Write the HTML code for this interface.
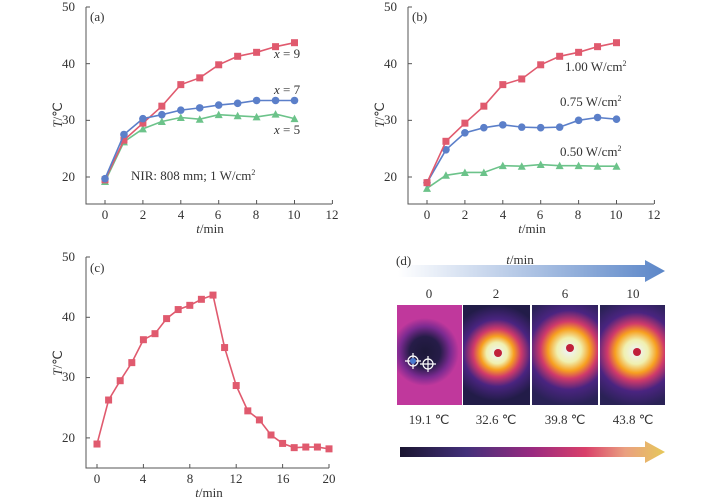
<!DOCTYPE html>
<html><head><meta charset="utf-8"><style>
body{margin:0;background:#fff}
svg{display:block;font-family:"Liberation Serif","Times New Roman",serif;}
text{font-size:13px;fill:#333}
</style></head><body>
<svg id="s" width="718" height="500" viewBox="0 0 718 500">
<defs>
<linearGradient id="ga" x1="0" x2="1"><stop offset="0" stop-color="#fff"/><stop offset="1" stop-color="#5b86c8"/></linearGradient>
<linearGradient id="gb" x1="0" x2="1"><stop offset="0" stop-color="#1a1530"/><stop offset="0.25" stop-color="#43307a"/><stop offset="0.5" stop-color="#9a2a80"/><stop offset="0.7" stop-color="#d9406a"/><stop offset="0.85" stop-color="#eaa080"/><stop offset="1" stop-color="#e6c85a"/></linearGradient>
<radialGradient id="h1" gradientUnits="userSpaceOnUse" cx="497" cy="353" r="48"><stop offset="0" stop-color="#eef4ff"/><stop offset="0.22" stop-color="#f0f0b0"/><stop offset="0.35" stop-color="#f7a020"/><stop offset="0.5" stop-color="#d03a6a"/><stop offset="0.7" stop-color="#4a2480"/><stop offset="1" stop-color="#221c48"/></radialGradient>
<radialGradient id="h2" gradientUnits="userSpaceOnUse" cx="569" cy="350" r="55"><stop offset="0" stop-color="#eef4ff"/><stop offset="0.22" stop-color="#f0f0b0"/><stop offset="0.38" stop-color="#f7a020"/><stop offset="0.52" stop-color="#d03a6a"/><stop offset="0.72" stop-color="#4a2480"/><stop offset="1" stop-color="#2a2256"/></radialGradient>
<radialGradient id="h3" gradientUnits="userSpaceOnUse" cx="636" cy="352" r="55"><stop offset="0" stop-color="#eef4ff"/><stop offset="0.22" stop-color="#f0f0b0"/><stop offset="0.38" stop-color="#f7a020"/><stop offset="0.52" stop-color="#d03a6a"/><stop offset="0.72" stop-color="#4a2480"/><stop offset="1" stop-color="#2a2256"/></radialGradient>
<radialGradient id="cold" gradientUnits="userSpaceOnUse" cx="425" cy="352" r="34"><stop offset="0" stop-color="#1c1838"/><stop offset="0.45" stop-color="#261c48"/><stop offset="0.75" stop-color="#7a2a90"/><stop offset="1" stop-color="#c0389c"/></radialGradient>
</defs>
<g id="axes" stroke="#555" stroke-width="1" fill="none">
<path d="M86 7V204H332"/>
<path d="M408 7V204H654"/>
<path d="M86 257V468H329"/>
</g>
<g id="ticks" stroke="#555" stroke-width="1"></g>
<g id="data"></g>
<text x="75" y="11" text-anchor="end">50</text>
<text x="75" y="68" text-anchor="end">40</text>
<text x="75" y="124" text-anchor="end">30</text>
<text x="75" y="181" text-anchor="end">20</text>
<g text-anchor="middle">
<text x="105" y="219">0</text><text x="143" y="219">2</text><text x="181" y="219">4</text><text x="218" y="219">6</text><text x="256" y="219">8</text><text x="294" y="219">10</text><text x="332" y="219">12</text>
<text x="210" y="233"><tspan font-style="italic">t</tspan>/min</text>
</g>
<text x="62" y="115" transform="rotate(-90 62 115)" text-anchor="middle"><tspan font-style="italic">T</tspan>/℃</text>
<text x="90" y="21">(a)</text>
<text x="274" y="58"><tspan font-style="italic">x</tspan> = 9</text>
<text x="274" y="94"><tspan font-style="italic">x</tspan> = 7</text>
<text x="274" y="134"><tspan font-style="italic">x</tspan> = 5</text>
<text x="131" y="180">NIR: 808 mm; 1 W/cm<tspan font-size="8" dy="-5">2</tspan></text>
<text x="397" y="11" text-anchor="end">50</text>
<text x="397" y="68" text-anchor="end">40</text>
<text x="397" y="124" text-anchor="end">30</text>
<text x="397" y="181" text-anchor="end">20</text>
<g text-anchor="middle">
<text x="427" y="219">0</text><text x="465" y="219">2</text><text x="503" y="219">4</text><text x="540" y="219">6</text><text x="578" y="219">8</text><text x="616" y="219">10</text><text x="654" y="219">12</text>
<text x="532" y="233"><tspan font-style="italic">t</tspan>/min</text>
</g>
<text x="384" y="115" transform="rotate(-90 384 115)" text-anchor="middle"><tspan font-style="italic">T</tspan>/℃</text>
<text x="412" y="21">(b)</text>
<text x="565" y="71">1.00 W/cm<tspan font-size="8" dy="-5">2</tspan></text>
<text x="560" y="106">0.75 W/cm<tspan font-size="8" dy="-5">2</tspan></text>
<text x="560" y="156">0.50 W/cm<tspan font-size="8" dy="-5">2</tspan></text>
<text x="75" y="261" text-anchor="end">50</text>
<text x="75" y="321" text-anchor="end">40</text>
<text x="75" y="381" text-anchor="end">30</text>
<text x="75" y="442" text-anchor="end">20</text>
<g text-anchor="middle">
<text x="97" y="483">0</text><text x="143" y="483">4</text><text x="190" y="483">8</text><text x="236" y="483">12</text><text x="283" y="483">16</text><text x="329" y="483">20</text>
<text x="209" y="497"><tspan font-style="italic">t</tspan>/min</text>
</g>
<text x="62" y="363" transform="rotate(-90 62 363)" text-anchor="middle"><tspan font-style="italic">T</tspan>/℃</text>
<text x="90" y="272">(c)</text>
<path d="M398 265H645V260L665 271L645 282V277H398Z" fill="url(#ga)"/>
<text x="396" y="265">(d)</text>
<text x="520" y="264" text-anchor="middle"><tspan font-style="italic">t</tspan>/min</text>
<g text-anchor="middle">
<text x="429" y="298">0</text><text x="496" y="298">2</text><text x="565" y="298">6</text><text x="633" y="298">10</text>
<text x="429" y="424">19.1 ℃</text><text x="496" y="424">32.6 ℃</text><text x="565" y="424">39.8 ℃</text><text x="633" y="424">43.8 ℃</text>
</g>
<rect x="397" y="305" width="65" height="100" fill="url(#cold)"/>
<rect x="463" y="305" width="67" height="100" fill="url(#h1)"/>
<rect x="532" y="305" width="66" height="100" fill="url(#h2)"/>
<rect x="600" y="305" width="65" height="100" fill="url(#h3)"/>
<g fill="none" stroke="#fff" stroke-width="1.2">
<circle cx="413" cy="361" r="5"/><circle cx="428" cy="364" r="5"/>
<path d="M405 361h16M413 353v16M420 364h16M428 356v16"/>
</g>
<circle cx="413" cy="361" r="3" fill="#4a7ad0"/>
<circle cx="498" cy="353" r="4" fill="#c0203a"/>
<circle cx="570" cy="348" r="4" fill="#c0203a"/>
<circle cx="637" cy="352" r="4" fill="#c0203a"/>
<path d="M400 447H645V441L665 452L645 463V457H400Z" fill="url(#gb)"/>
</svg>
<script>
var NS="http://www.w3.org/2000/svg",D=document.getElementById("data"),T=document.getElementById("ticks");
function el(n,a,p){var e=document.createElementNS(NS,n);for(var k in a)e.setAttribute(k,a[k]);(p||D).appendChild(e);return e;}
function series(ys,fx,fy,col,mk){var pts=ys.map(function(y,i){return [fx(i),fy(y)];});
el("polyline",{points:pts.map(function(p){return p.join(",")}).join(" "),fill:"none",stroke:col,"stroke-width":1.6});
pts.forEach(function(p){if(mk=="s")el("rect",{x:p[0]-3.5,y:p[1]-3.5,width:7,height:7,fill:col});
else if(mk=="c")el("circle",{cx:p[0],cy:p[1],r:3.8,fill:col});
else el("polygon",{points:(p[0]-4)+","+(p[1]+3.5)+" "+(p[0]+4)+","+(p[1]+3.5)+" "+p[0]+","+(p[1]-4),fill:col});});}
var R="#e05a6e",B="#5b7fc9",G="#6cc38a";
var ya=function(v){return 177-(v-20)*5.667;};
var xa=function(i){return 105+i*18.95;},xb=function(i){return 427+i*18.95;};
series([19.2,26.2,28.5,29.8,30.5,30.2,31,30.8,30.6,31.1,30.3],xa,ya,G,"t");
series([19.5,26.5,29.5,32.5,36.3,37.5,39.8,41.3,42,43,43.7],xa,ya,R,"s");
series([19.7,27.5,30.3,31,31.8,32.2,32.7,33,33.5,33.5,33.5],xa,ya,B,"c");
series([18,20.3,20.8,20.8,22,21.9,22.2,22,22,21.9,21.9],xb,ya,G,"t");
series([19,24.8,27.8,28.7,29.2,28.8,28.7,28.8,30,30.5,30.2],xb,ya,B,"c");
series([19,26.3,29.5,32.5,36.3,37.3,39.8,41.3,42,43,43.7],xb,ya,R,"s");
series([19,26.3,29.5,32.5,36.3,37.3,39.8,41.3,42,43,43.7,35,28.7,24.5,23,20.5,19.1,18.4,18.5,18.5,18.2],
 function(i){return 97+i*11.6;},function(v){return 438-(v-20)*6.03;},R,"s");
function tk(x1,y1,x2,y2){el("line",{x1:x1,y1:y1,x2:x2,y2:y2},T);}
[0,10,20,30].forEach(function(d){var y=7+d*5.667;tk(86,y,90,y);tk(408,y,412,y);});
for(var i=0;i<=6;i++){var x=105+i*37.9;tk(x,204,x,200);tk(x+322,204,x+322,200);}
[0,10,20,30].forEach(function(d){var y=257+d*6.03;tk(86,y,90,y);});
for(i=0;i<=5;i++){x=97+i*46.4;tk(x,468,x,464);}
</script>
</body></html>
